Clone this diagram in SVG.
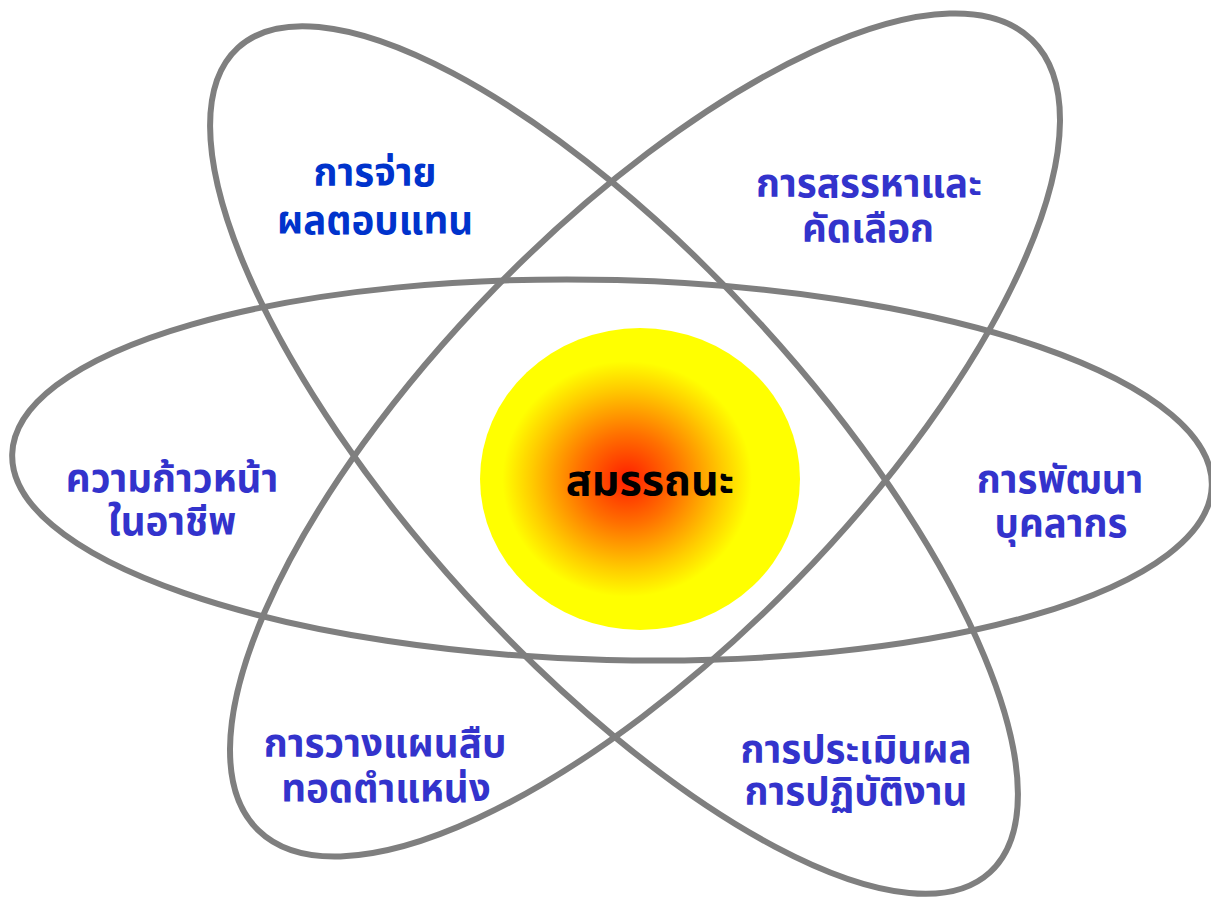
<svg xmlns="http://www.w3.org/2000/svg" width="1211" height="900" viewBox="0 0 1211 900">
<defs>
<radialGradient id="core" cx="0.46" cy="0.5" r="0.5">
<stop offset="0" stop-color="#ff1e00"/>
<stop offset="0.3" stop-color="#ff7000"/>
<stop offset="0.6" stop-color="#ffcc00"/>
<stop offset="0.78" stop-color="#ffff00"/>
<stop offset="1" stop-color="#ffff00"/>
</radialGradient>
</defs>
<style>
.orbit{fill:none;stroke:#7f7f7f;stroke-width:6}
.lbl{font-family:"Noto Sans Thai","Noto Sans","DejaVu Sans",sans-serif;font-weight:bold;font-size:38.5px;fill:#3333cc;text-anchor:middle}
.lbl1{fill:#0033cc}
.core{font-family:"Noto Sans Thai","Noto Sans","DejaVu Sans",sans-serif;font-weight:bold;font-size:43px;fill:#000;text-anchor:middle}
</style>
<rect width="1211" height="900" fill="#fff"/>
<g id="connectors">
<ellipse class="orbit" cx="612" cy="470" rx="600" ry="190" transform="rotate(1.5 612 470)"/>
<ellipse class="orbit" cx="614" cy="460" rx="558" ry="200" transform="rotate(47.65 614 460)"/>
<ellipse class="orbit" cx="645" cy="435" rx="553" ry="210" transform="rotate(-45.6 645 435)"/>
</g>
<g id="core-node">
<ellipse cx="640" cy="479" rx="160" ry="151" fill="url(#core)"/>
<text class="core" x="650" y="495">สมรรถนะ</text>
</g>
<g id="n-compensation">
<text class="lbl lbl1"><tspan x="375" y="186">การจ่าย</tspan><tspan x="375" y="234">ผลตอบแทน</tspan></text>
</g>
<g id="n-recruitment">
<text class="lbl"><tspan x="869" y="197">การสรรหาและ</tspan><tspan x="868" y="242">คัดเลือก</tspan></text>
</g>
<g id="n-career">
<text class="lbl"><tspan x="172" y="492">ความก้าวหน้า</tspan><tspan x="172" y="535">ในอาชีพ</tspan></text>
</g>
<g id="n-development">
<text class="lbl"><tspan x="1060" y="493">การพัฒนา</tspan><tspan x="1061" y="537">บุคลากร</tspan></text>
</g>
<g id="n-succession">
<text class="lbl"><tspan x="385" y="757">การวางแผนสืบ</tspan><tspan x="386" y="802">ทอดตำแหน่ง</tspan></text>
</g>
<g id="n-appraisal">
<text class="lbl"><tspan x="856" y="763">การประเมินผล</tspan><tspan x="856" y="805">การปฏิบัติงาน</tspan></text>
</g>
</svg>
